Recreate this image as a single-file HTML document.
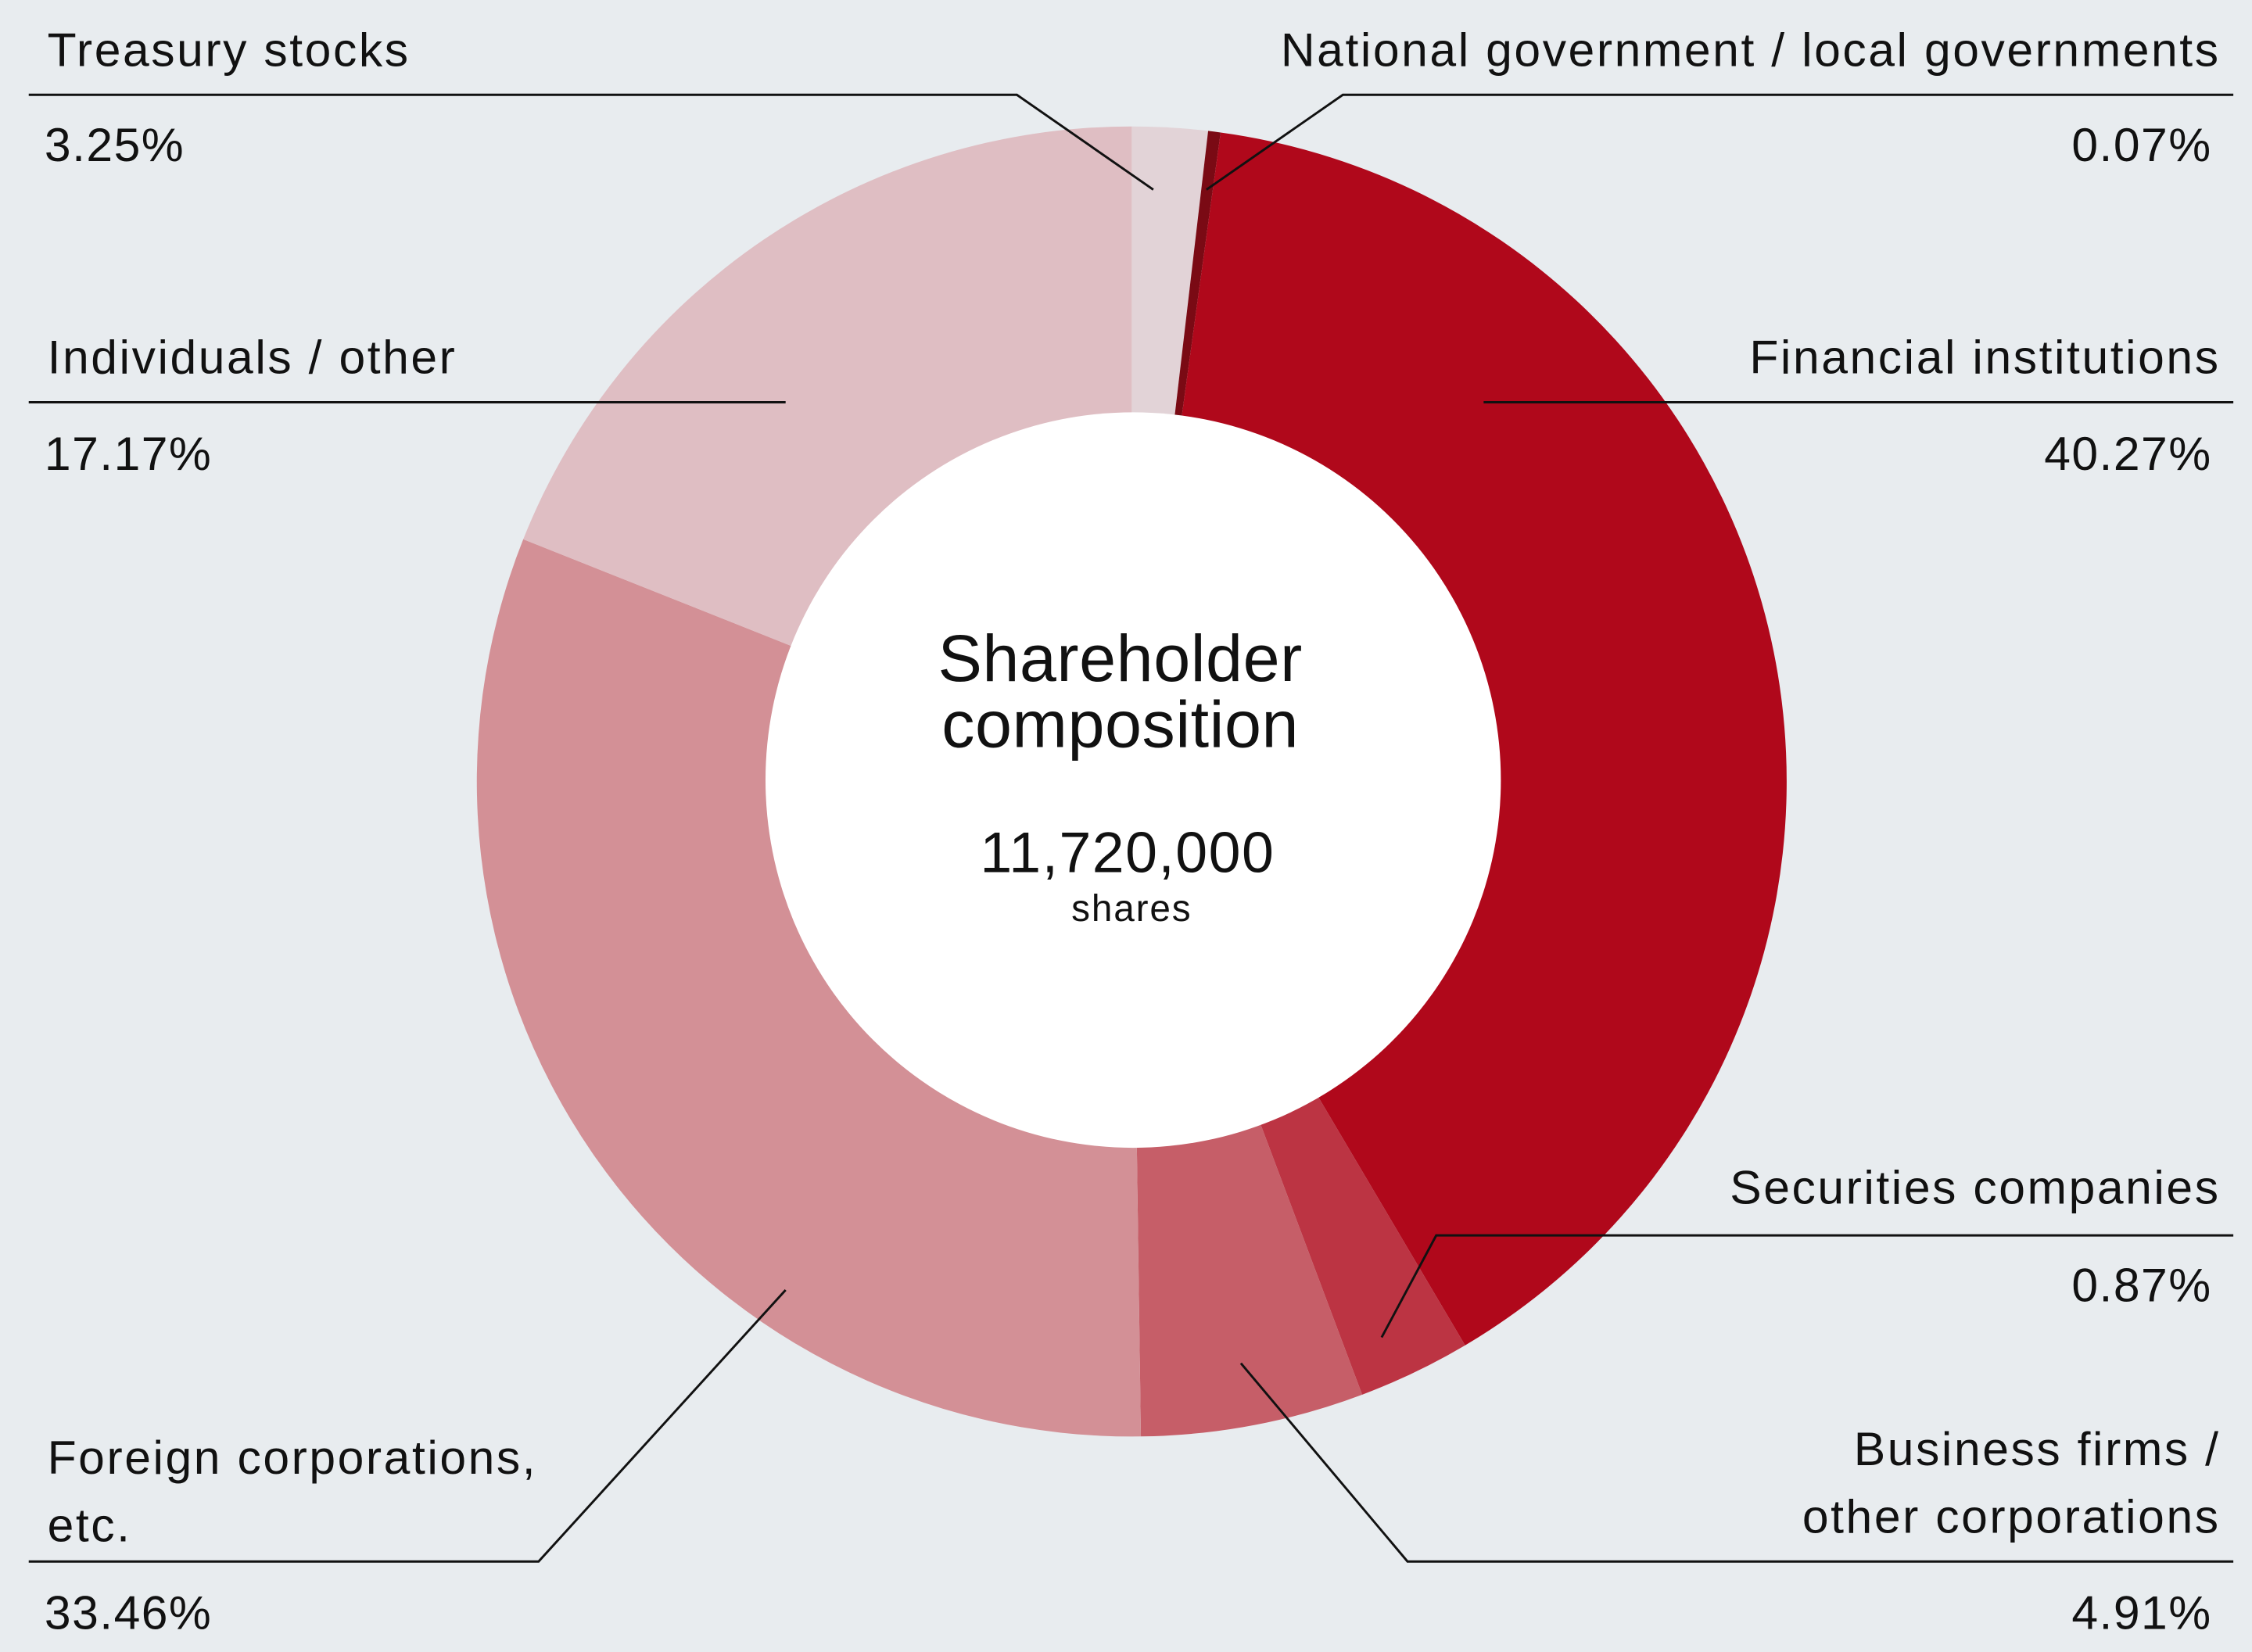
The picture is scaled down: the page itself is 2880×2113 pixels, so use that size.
<!DOCTYPE html>
<html><head><meta charset="utf-8"><style>
html,body{margin:0;padding:0;background:#e8ecef;}
svg{display:block;}
text{font-family:"Liberation Sans",sans-serif;fill:#111;}
.l{letter-spacing:1.4px;}
.p{letter-spacing:0.8px;}
</style></head><body>
<svg id="s" width="2880" height="2113" viewBox="0 0 1568 1150" preserveAspectRatio="none" xmlns="http://www.w3.org/2000/svg">
<rect width="1568" height="1150" fill="#e8ecef"/>
<g id="donut"></g>
<circle cx="789" cy="543" r="256" fill="#fff"/>
<g stroke="#111" stroke-width="1.6" fill="none">
<polyline points="20,66 708,66 803,132"/>
<polyline points="1555,66 935,66 840,132"/>
<line x1="20" y1="280" x2="547" y2="280"/>
<line x1="1033" y1="280" x2="1555" y2="280"/>
<polyline points="1555,860 1000,860 962,931"/>
<polyline points="1555,1087 980,1087 864,949"/>
<polyline points="20,1087 375,1087 547,898"/>
</g>
<g font-size="33">
<text class="l" x="33" y="46">Treasury stocks</text>
<text class="p" x="31" y="112">3.25%</text>
<text class="l" x="1546" y="46" text-anchor="end">National government / local governments</text>
<text class="p" x="1540" y="112" text-anchor="end">0.07%</text>
<text class="l" x="33" y="260">Individuals / other</text>
<text class="p" x="31" y="327">17.17%</text>
<text class="l" x="1546" y="260" text-anchor="end">Financial institutions</text>
<text class="p" x="1540" y="327" text-anchor="end">40.27%</text>
<text class="l" x="1546" y="838" text-anchor="end">Securities companies</text>
<text class="p" x="1540" y="906" text-anchor="end">0.87%</text>
<text class="l" x="1546" y="1020" text-anchor="end">Business firms /</text>
<text class="l" x="1546" y="1067" text-anchor="end">other corporations</text>
<text class="p" x="1540" y="1134" text-anchor="end">4.91%</text>
<text class="l" x="33" y="1026">Foreign corporations,</text>
<text class="l" x="33" y="1073">etc.</text>
<text class="p" x="31" y="1134">33.46%</text>
</g>
<text x="780" y="474" font-size="46" letter-spacing="0.3" text-anchor="middle">Shareholder</text>
<text x="780" y="520" font-size="46" letter-spacing="0.3" text-anchor="middle">composition</text>
<text x="785" y="607" font-size="40" letter-spacing="0.8" text-anchor="middle">11,720,000</text>
<text x="788" y="641" font-size="26" letter-spacing="1" text-anchor="middle">shares</text>
</svg>
<script>
(function(){
var cx=788,cy=544,R=456;
var segs=[[0,6.7,"#e2d3d7"],[6.7,7.8,"#7a0a14"],[7.8,149.4,"#b0081b"],[149.4,159.4,"#bc3443"],[159.4,179.2,"#c65e68"],[179.2,291.7,"#d39096"],[291.7,360,"#dfbec3"]];
var g=document.getElementById("donut"),ns="http://www.w3.org/2000/svg";
function pt(a){a=a*Math.PI/180;return [cx+R*Math.sin(a),cy-R*Math.cos(a)];}
segs.forEach(function(s){
 var p1=pt(s[0]),p2=pt(s[1]),large=(s[1]-s[0])>180?1:0;
 var p=document.createElementNS(ns,"path");
 p.setAttribute("d","M"+cx+","+cy+"L"+p1[0]+","+p1[1]+"A"+R+","+R+" 0 "+large+" 1 "+p2[0]+","+p2[1]+"Z");
 p.setAttribute("fill",s[2]);
 g.appendChild(p);
});
})();
</script>
</body></html>
